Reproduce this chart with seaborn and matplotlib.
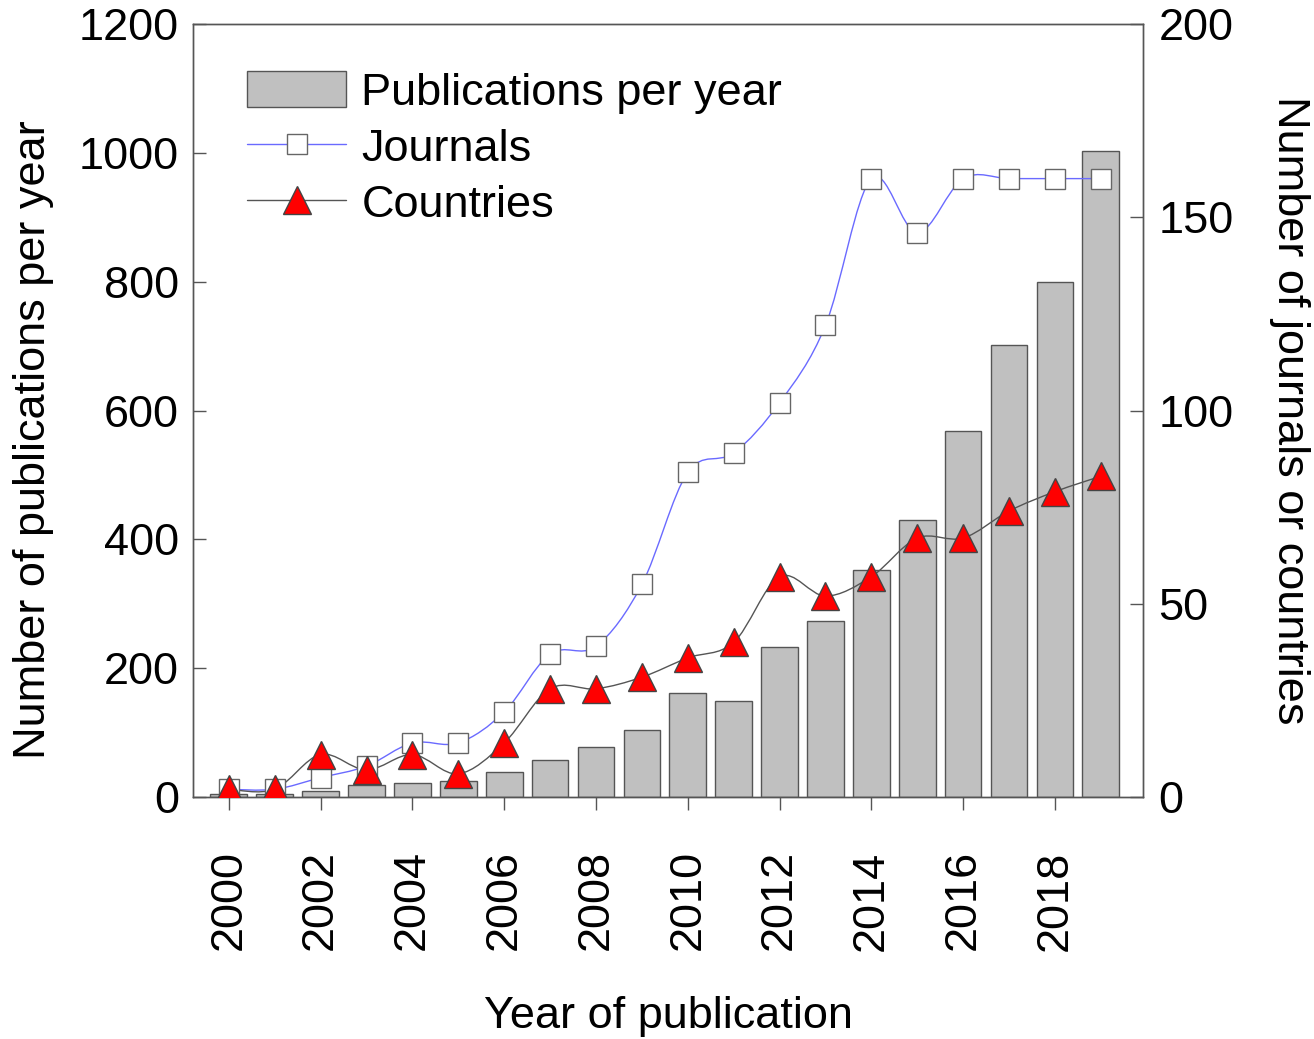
#### Libraries
import numpy as np
import matplotlib
matplotlib.use('Agg')
import matplotlib.pyplot as plt
from matplotlib.path import Path
from matplotlib.patches import PathPatch, Patch
from matplotlib.lines import Line2D
import seaborn as sns

#### Data
years = [2000, 2001, 2002, 2003, 2004, 2005, 2006, 2007, 2008, 2009,
         2010, 2011, 2012, 2013, 2014, 2015, 2016, 2017, 2018, 2019]
publications = [5, 5, 9, 19, 21, 25, 39, 58, 77, 104,
                162, 149, 233, 273, 353, 430, 568, 702, 799, 1003]
journals = [2, 2, 5, 8, 14, 14, 22, 37, 39, 55,
            84, 89, 102, 122, 160, 146, 160, 160, 160, 160]
countries = [2, 2, 11, 7, 11, 6, 14, 28, 28, 31,
             36, 40, 57, 52, 57, 67, 67, 74, 79, 83]
xtick_years = list(range(2000, 2019, 2))

sns.set_style('white')
plt.rcParams['font.family'] = ['Liberation Sans', 'DejaVu Sans']
plt.rcParams['text.color'] = 'black'
plt.rcParams['axes.labelcolor'] = 'black'
plt.rcParams['xtick.labelcolor'] = 'black'
plt.rcParams['ytick.labelcolor'] = 'black'
FS = 32.5
EDGE = '#555555'


def smooth_path(x, y):
    # Catmull-Rom curve through the points, drawn as cubic Bezier segments
    x = np.asarray(x, float)
    y = np.asarray(y, float)
    px = np.concatenate([[x[0]], x, [x[-1]]])
    py = np.concatenate([[y[0]], y, [y[-1]]])
    verts = [(x[0], y[0])]
    codes = [Path.MOVETO]
    for i in range(1, len(x)):
        c1 = (px[i] + (px[i + 1] - px[i - 1]) / 6, py[i] + (py[i + 1] - py[i - 1]) / 6)
        c2 = (px[i + 1] - (px[i + 2] - px[i]) / 6, py[i + 1] - (py[i + 2] - py[i]) / 6)
        verts += [c1, c2, (px[i + 1], py[i + 1])]
        codes += [Path.CURVE4] * 3
    return Path(verts, codes)


fig = plt.figure(figsize=(13.14, 10.39), dpi=100)
ax = fig.add_axes([0.1469, 0.2329, 0.723, 0.744])

#### Bars: publications per year
sns.barplot(x=years, y=publications, native_scale=True, color='#c0c0c0',
            saturation=1, edgecolor=EDGE, linewidth=1, width=0.8,
            errorbar=None, ax=ax)
ax.set_xlim(1999.22, 2019.92)
ax.set_ylim(0, 1200)
ax.set_yticks(range(0, 1201, 200))
ax.set_xticks(xtick_years)
ax.set_xticklabels([str(y) for y in xtick_years], rotation=90)
ax.tick_params(axis='y', direction='in', length=9.4, width=1, color=EDGE,
               labelsize=FS, pad=10, left=True)
ax.tick_params(axis='x', direction='out', length=9.4, width=1, color=EDGE,
               labelsize=FS, pad=29, bottom=True)
ax.set_xlabel('Year of publication', fontsize=FS, labelpad=33)
ax.set_ylabel('Number of publications per year', fontsize=FS, labelpad=18)
ax.yaxis.label.set_y(0.462)

#### Lines: journals and countries (right axis)
ax2 = ax.twinx()
ax2.set_ylim(0, 200)
ax2.set_yticks(range(0, 201, 50))
ax2.add_patch(PathPatch(smooth_path(years, journals), fill=False,
                        edgecolor='#6a6aff', lw=1, zorder=2))
ax2.add_patch(PathPatch(smooth_path(years, countries), fill=False,
                        edgecolor='#555555', lw=1, zorder=2))
ax2.plot(years, journals, ls='none', marker='s', ms=14.5, mfc='white',
         mec='#666666', mew=1, zorder=3)
ax2.plot(years, countries, ls='none', marker='^', ms=19.5, mfc='#ff0000',
         mec='#444444', mew=1, zorder=4)
ax2.tick_params(axis='y', direction='in', length=9.4, width=1, color=EDGE,
                labelsize=FS, pad=11, right=True)
ax2.set_ylabel('Number of journals or countries', fontsize=FS,
               rotation=-90, labelpad=55)

for a in (ax, ax2):
    for s in a.spines.values():
        s.set_color(EDGE)
        s.set_linewidth(1)

#### Legend
handles = [
    Patch(facecolor='#c0c0c0', edgecolor=EDGE, linewidth=1),
    Line2D([], [], color='#6a6aff', lw=1, marker='s', ms=14.5, mfc='white',
           mec='#666666'),
    Line2D([], [], color='#555555', lw=1, marker='^', ms=19.5, mfc='#ff0000',
           mec='#444444'),
]
ax2.legend(handles, ['Publications per year', 'Journals', 'Countries'],
           loc='upper left', bbox_to_anchor=(0.057, 0.939), frameon=False,
           fontsize=FS, borderpad=0, borderaxespad=0, handlelength=2.2,
           handleheight=0.85, handletextpad=0.33, labelspacing=0.3)

fig.savefig('out.png', dpi=100)
